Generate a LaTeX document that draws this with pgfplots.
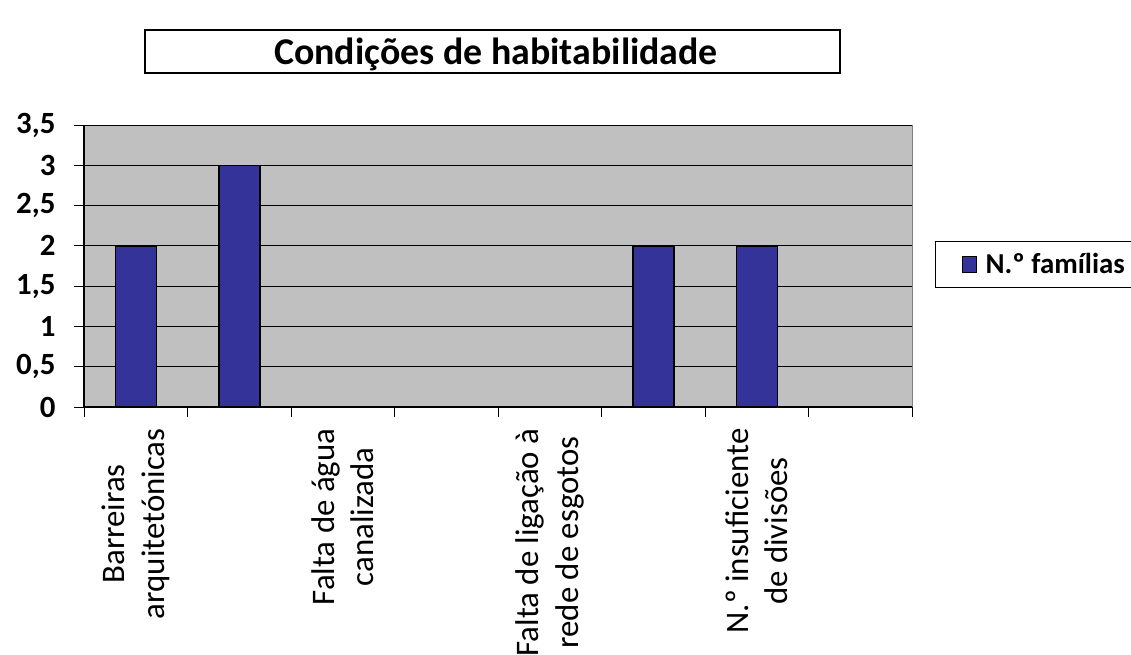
\documentclass[border=0pt]{standalone}
\usepackage{fontspec}
\setmainfont{Carlito}
\usepackage{pgfplots}
\usepackage{pgfplotstable}
\pgfplotsset{compat=1.18}
\definecolor{barblue}{RGB}{51,51,153}
\definecolor{plotgray}{RGB}{192,192,192}
\definecolor{framegray}{RGB}{128,128,128}
\pgfplotstableread{
x y
1 2
2 3
3 0
4 0
5 0
6 2
7 2
8 0
}\habdata
\begin{document}
\begin{tikzpicture}[x=1bp,y=1bp]
\useasboundingbox (0,0) rectangle (1131,-655);
\draw[line width=1.5bp] (145,-30) rectangle (840,-73);
\node[font=\bfseries\fontsize{38}{45}\selectfont] at (496,-54) {Condições de habitabilidade};
\begin{axis}[
  at={(84bp,-407bp)}, anchor=south west,
  scale only axis, width=828bp, height=282bp,
  xmin=0.5, xmax=8.5, ymin=0, ymax=3.5,
  ybar, bar width=41bp,
  axis x line*=bottom, axis y line*=left,
  axis line style={black, line width=1.2bp, -},
  axis background/.style={fill=plotgray, draw=framegray, line width=1bp},
  ymajorgrids, major grid style={black, line width=0.8bp},
  tick align=outside, major tick length=10bp,
  tick style={black, line width=1bp},
  ytick={0,0.5,1,1.5,2,2.5,3,3.5},
  /pgf/number format/.cd, use comma, fixed, precision=1, assume math mode=true,
  /pgfplots/.cd,
  yticklabel style={font=\bfseries\fontsize{31}{36}\selectfont, xshift=-15bp},
  xtick={0.5,1.5,2.5,3.5,4.5,5.5,6.5,7.5,8.5},
  xticklabels={,,,,,,,,},
  extra x ticks={1,3,5,7},
  extra x tick labels={{Barreiras\\arquitetónicas},{Falta de água\\canalizada},{Falta de ligação à\\rede de esgotos},{N.º insuficiente\\de divisões}},
  extra x tick style={major tick length=0pt, tick label style={yshift=-18bp, rotate=90, anchor=east, align=center, font=\fontsize{33}{40}\selectfont}},
  legend style={at={(1.0278,0.505)}, anchor=west, draw=black, line width=1bp,
    font=\bfseries\fontsize{29}{34}\selectfont, inner xsep=24bp, inner ysep=10bp},
  legend image code/.code={\draw[#1, line width=1.5bp] (3bp,-8bp) rectangle (17bp,8bp); \path[draw=none, fill=none] (0bp,0bp) -- (24bp,0bp);},
]
\addplot[fill=barblue, draw=black, line width=1.5bp] table[x=x,y=y] {\habdata};
\addlegendentry{N.º famílias}
\end{axis}
\end{tikzpicture}
\end{document}
